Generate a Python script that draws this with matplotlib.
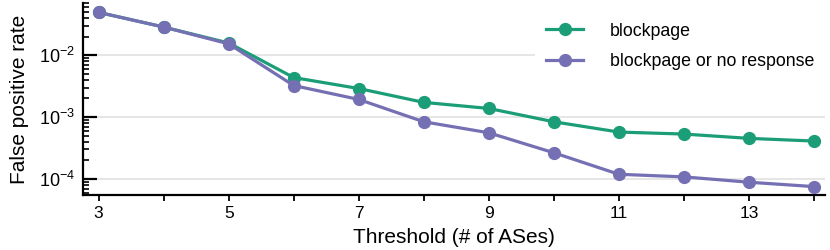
import numpy as np
import matplotlib
matplotlib.use('Agg')
import matplotlib.pyplot as plt
from matplotlib.ticker import LogLocator, NullFormatter, FixedLocator

plt.rcParams['font.family'] = ['Liberation Sans', 'DejaVu Sans']

thresholds = [3, 4, 5, 6, 7, 8, 9, 10, 11, 12, 13, 14]
blockpage = [0.0494, 0.0286, 0.0158, 0.00436, 0.0029, 0.00173, 0.00138,
             0.00084, 0.000573, 0.000532, 0.000453, 0.00041]
blockpage_or_none = [0.0494, 0.0286, 0.0153, 0.00324, 0.00193, 0.00084, 0.000558,
                     0.000265, 0.000119, 0.000108, 0.0000885, 0.0000752]
xtick_labels = ['3', '', '5', '', '7', '', '9', '', '11', '', '13', '']

fig = plt.figure(figsize=(8.3, 2.5), dpi=100)
ax = fig.add_axes([0.1, 0.22, 0.894, 0.768])

ax.plot(thresholds, blockpage, '-o', color='#1b9e77', lw=2.3, ms=8.5,
        label='blockpage', zorder=3)
ax.plot(thresholds, blockpage_or_none, '-o', color='#7570b3', lw=2.3, ms=8.5,
        label='blockpage or no response', zorder=3)

ax.set_yscale('log')
ax.set_ylim(5.5e-5, 0.07)
ax.set_xlim(2.76, 14.17)

ax.xaxis.set_major_locator(FixedLocator(thresholds))
ax.set_xticklabels(xtick_labels)
ax.yaxis.set_major_locator(LogLocator(base=10, numticks=10))
ax.yaxis.set_minor_locator(LogLocator(base=10, subs=np.arange(2, 10), numticks=20))
ax.yaxis.set_minor_formatter(NullFormatter())

ax.grid(axis='y', which='major', color='#e6e6e6', lw=1.4, zorder=0)
ax.set_axisbelow(True)

for s in ['top', 'right']:
    ax.spines[s].set_visible(False)
for s in ['left', 'bottom']:
    ax.spines[s].set_linewidth(1.6)

ax.tick_params(axis='x', direction='out', length=4, width=1.3, labelsize=12.5, pad=4)
ax.tick_params(axis='y', which='major', direction='in', length=10, width=1.6,
               labelsize=13, pad=6)
ax.tick_params(axis='y', which='minor', direction='in', length=4, width=1.2)

ax.set_xlabel('Threshold (# of ASes)', fontsize=15, labelpad=5)
ax.set_ylabel('False positive rate', fontsize=15, labelpad=7)

leg = ax.legend(loc='upper right', fontsize=12.8, frameon=True, facecolor='white',
                edgecolor='none', framealpha=1, handlelength=2.1,
                handletextpad=1.5, labelspacing=0.75, borderpad=0.6,
                bbox_to_anchor=(1.012, 1.0))

plt.savefig('out.png', dpi=100)
